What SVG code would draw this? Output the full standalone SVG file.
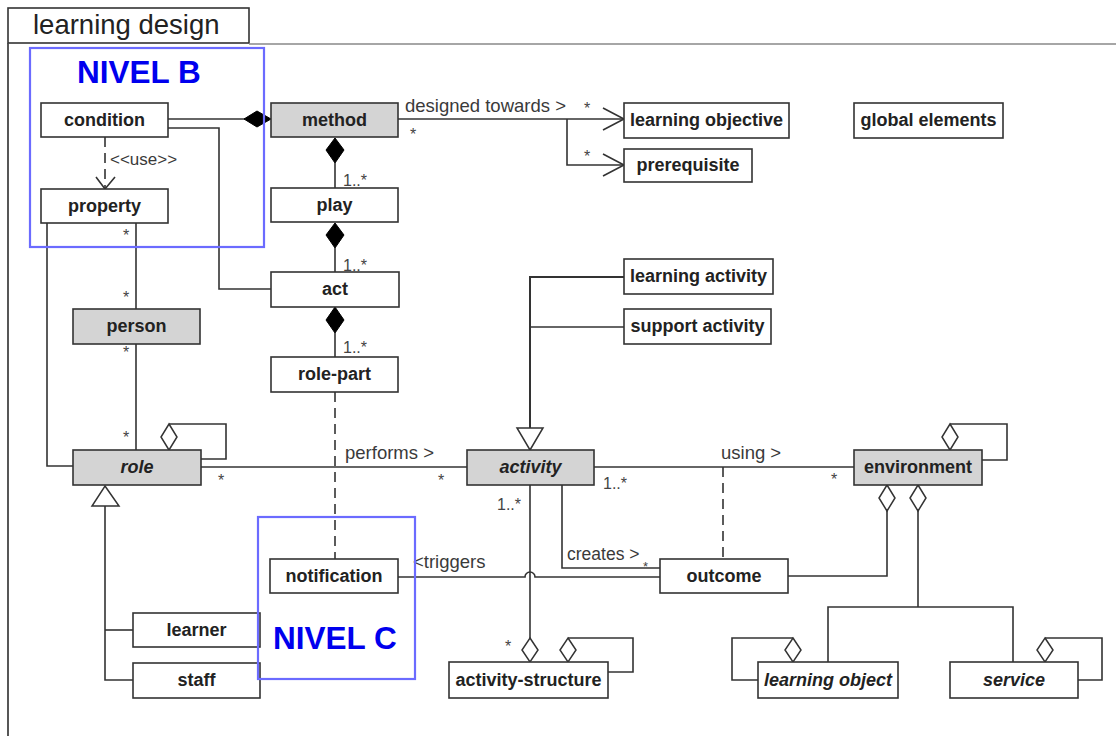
<svg xmlns="http://www.w3.org/2000/svg" width="1116" height="736" viewBox="0 0 1116 736">
<style>
.bg{fill:#fff}
.n{fill:#fff;stroke:#333;stroke-width:1.6}
.g{fill:#d4d4d4;stroke:#333;stroke-width:1.6}
.t{font-family:"Liberation Sans",Arial,sans-serif;font-size:18px;font-weight:bold;fill:#222;text-anchor:middle}
.it{font-style:italic}
.l{font-family:"Liberation Sans",Arial,sans-serif;font-size:18.5px;fill:#3a3a3a}
.u{font-size:17px}
.m{font-family:"Liberation Sans",Arial,sans-serif;font-size:16px;fill:#444}
.c{fill:none;stroke:#333;stroke-width:1.6}
.d{stroke-dasharray:10 6}
.fd{fill:#000;stroke:#000;stroke-width:1}
.hd{fill:#fff;stroke:#333;stroke-width:1.5}
.blue{fill:none;stroke:#6b6bff;stroke-width:2.2}
.bt{font-family:"Liberation Sans",Arial,sans-serif;font-size:31.5px;font-weight:bold;fill:#0000ee}
</style>
<rect class="bg" x="0" y="0" width="1116" height="736"/>

<g id="frame">
<rect x="8" y="8" width="241" height="35" fill="#fff" stroke="#333" stroke-width="1.6"/>
<text x="33" y="34" font-family="Liberation Sans, Arial, sans-serif" font-size="27.5" fill="#222">learning design</text>
<line x1="249" y1="44" x2="1116" y2="44" stroke="#888" stroke-width="1.6"/>
<line x1="8" y1="43" x2="8" y2="736" stroke="#444" stroke-width="1.8"/>
</g>

<g id="connectors">
<!-- condition - method composition -->
<line class="c" x1="168" y1="119" x2="245" y2="119"/>
<polygon class="fd" points="244,119 257,111 271,119 257,127"/>
<!-- condition to act -->
<polyline class="c" points="168,128 219,128 219,289 271,289"/>
<!-- use dependency -->
<line class="c d" x1="105" y1="137" x2="105" y2="188"/>
<polyline class="c" points="96,177 105,189 115,177"/>
<text class="l u" x="110" y="165">&lt;&lt;use&gt;&gt;</text>
<!-- method-play-act-rolepart -->
<line class="c" x1="335" y1="163" x2="335" y2="188"/>
<polygon class="fd" points="335,138 344,150 335,163 326,150"/>
<text class="m" x="343" y="186">1..*</text>
<line class="c" x1="335" y1="248" x2="335" y2="272"/>
<polygon class="fd" points="335,223 344,235 335,248 326,235"/>
<text class="m" x="343" y="271">1..*</text>
<line class="c" x1="335" y1="333" x2="335" y2="357"/>
<polygon class="fd" points="335,307 344,320 335,333 326,320"/>
<text class="m" x="343" y="353">1..*</text>
<!-- role-part to notification dashed -->
<line class="c d" x1="335" y1="392" x2="335" y2="559"/>
<!-- designed towards -->
<line class="c" x1="398" y1="119" x2="623" y2="119"/>
<polyline class="c" points="567,119 567,165 623,165"/>
<polyline class="c" points="603,108 624,119 603,130"/>
<polyline class="c" points="603,154 624,165 603,176"/>
<text class="l" x="405" y="112">designed towards &gt;</text>
<text class="m" x="410" y="140">*</text>
<text class="m" x="584" y="114">*</text>
<text class="m" x="584" y="162">*</text>
<!-- property - person - role -->
<line class="c" x1="136" y1="223" x2="136" y2="309"/>
<line class="c" x1="136" y1="344" x2="136" y2="450"/>
<text class="m" x="123" y="241">*</text>
<text class="m" x="123" y="303">*</text>
<text class="m" x="123" y="358">*</text>
<text class="m" x="123" y="443">*</text>
<polyline class="c" points="47,223 47,466 73,466"/>
<!-- role self aggregation -->
<polyline class="c" points="169,424 226,424 226,459 201,459"/>
<polygon class="hd" points="169,424 177,437 169,450 161,437"/>
<!-- performs -->
<line class="c" x1="201" y1="467" x2="467" y2="467"/>
<text class="l" x="345" y="459">performs &gt;</text>
<text class="m" x="218" y="486">*</text>
<text class="m" x="438" y="486">*</text>
<!-- role generalization -->
<polyline class="c" points="105,506 105,680 133,680"/>
<line class="c" x1="105" y1="630" x2="133" y2="630"/>
<polygon class="hd" points="105,486 119,506 92,506"/>
<!-- activity generalization -->
<polyline class="c" points="624,277 530,277 530,428" style="stroke-width:2"/>
<line class="c" x1="530" y1="327" x2="624" y2="327"/>
<polygon class="hd" points="530,450 543,428 517,428"/>
<!-- using -->
<line class="c" x1="594" y1="467" x2="854" y2="467"/>
<text class="l" x="721" y="459">using &gt;</text>
<text class="m" x="603" y="489">1..*</text>
<text class="m" x="831" y="485">*</text>
<line class="c d" x1="723" y1="467" x2="723" y2="559"/>
<!-- environment self aggregation -->
<polyline class="c" points="950,424 1007,424 1007,460 982,460"/>
<polygon class="hd" points="950,424 958,437 950,450 942,437"/>
<!-- activity to activity-structure -->
<line class="c" x1="530" y1="485" x2="530" y2="638"/>
<text class="m" x="497" y="510">1..*</text>
<text class="m" x="505" y="652">*</text>
<polygon class="hd" points="530,638 538,650 530,662 522,650"/>
<!-- activity-structure self -->
<polyline class="c" points="568,638 633,638 633,672 608,672"/>
<polygon class="hd" points="568,638 576,650 568,662 560,650"/>
<!-- creates -->
<polyline class="c" points="562,485 562,568 660,568"/>
<text class="l" x="567" y="560" style="font-size:17.5px">creates &gt;</text>
<text class="m" x="643" y="571" style="font-size:13px">*</text>
<!-- triggers -->
<path class="c" d="M398 577 H525 A5 5 0 0 1 535 577 H660"/>
<text class="l" x="413" y="568">&lt;triggers</text>
<!-- outcome to environment -->
<polyline class="c" points="788,576 887,576 887,511"/>
<polygon class="hd" points="887,485 895,498 887,511 879,498"/>
<!-- environment to lo / service -->
<line class="c" x1="918" y1="511" x2="918" y2="607"/>
<polygon class="hd" points="918,485 926,498 918,511 910,498"/>
<polyline class="c" points="828,662 828,607 1013,607 1013,662"/>
<!-- learning object self -->
<polyline class="c" points="793,638 732,638 732,680 758,680"/>
<polygon class="hd" points="793,638 801,650 793,662 785,650"/>
<!-- service self -->
<polyline class="c" points="1045,638 1102,638 1102,680 1078,680"/>
<polygon class="hd" points="1045,638 1053,650 1045,662 1037,650"/>
</g>

<g id="nivel-b">
<rect class="blue" x="30" y="48" width="234" height="199"/>
<text class="bt" x="77" y="83">NIVEL B</text>
</g>

<g id="condition"><rect class="n" x="41" y="103" width="127" height="34"/><text class="t" x="104.5" y="126">condition</text></g>
<g id="property"><rect class="n" x="41" y="189" width="127" height="34"/><text class="t" x="104.5" y="212">property</text></g>
<g id="method"><rect class="g" x="271" y="103" width="127" height="34"/><text class="t" x="334.5" y="126">method</text></g>
<g id="play"><rect class="n" x="271" y="188" width="127" height="34"/><text class="t" x="334.5" y="211">play</text></g>
<g id="act"><rect class="n" x="271" y="272" width="128" height="35"/><text class="t" x="335" y="295">act</text></g>
<g id="role-part"><rect class="n" x="271" y="357" width="127" height="35"/><text class="t" x="334.5" y="380">role-part</text></g>
<g id="person"><rect class="g" x="73" y="309" width="127" height="35"/><text class="t" x="136.5" y="332">person</text></g>
<g id="role"><rect class="g" x="73" y="450" width="128" height="35"/><text class="t it" x="137" y="473">role</text></g>
<g id="learning-objective"><rect class="n" x="624" y="103" width="165" height="35"/><text class="t" x="706.5" y="126">learning objective</text></g>
<g id="prerequisite"><rect class="n" x="624" y="149" width="128" height="33"/><text class="t" x="688" y="171">prerequisite</text></g>
<g id="global-elements"><rect class="n" x="854" y="103" width="149" height="35"/><text class="t" x="928.5" y="126">global elements</text></g>
<g id="learning-activity"><rect class="n" x="624" y="259" width="149" height="35"/><text class="t" x="698.5" y="282">learning activity</text></g>
<g id="support-activity"><rect class="n" x="624" y="309" width="147" height="35"/><text class="t" x="697.5" y="332">support activity</text></g>
<g id="activity"><rect class="g" x="467" y="450" width="127" height="35"/><text class="t it" x="530.5" y="473">activity</text></g>
<g id="environment"><rect class="g" x="854" y="450" width="128" height="35"/><text class="t" x="918" y="473">environment</text></g>
<g id="notification"><rect class="n" x="270" y="559" width="128" height="34"/><text class="t" x="334" y="582">notification</text></g>
<g id="outcome"><rect class="n" x="660" y="559" width="128" height="34"/><text class="t" x="724" y="582">outcome</text></g>
<g id="learner"><rect class="n" x="133" y="613" width="127" height="34"/><text class="t" x="196.5" y="636">learner</text></g>
<g id="staff"><rect class="n" x="133" y="663" width="127" height="35"/><text class="t" x="196.5" y="686">staff</text></g>
<g id="activity-structure"><rect class="n" x="449" y="662" width="159" height="36"/><text class="t" x="528.5" y="686">activity-structure</text></g>
<g id="learning-object"><rect class="n" x="758" y="662" width="140" height="36"/><text class="t it" x="828" y="686">learning object</text></g>
<g id="service"><rect class="n" x="950" y="662" width="128" height="36"/><text class="t it" x="1014" y="686">service</text></g>

<g id="nivel-c">
<rect class="blue" x="258" y="517" width="157" height="162"/>
<text class="bt" x="273" y="649">NIVEL C</text>
</g>
</svg>
